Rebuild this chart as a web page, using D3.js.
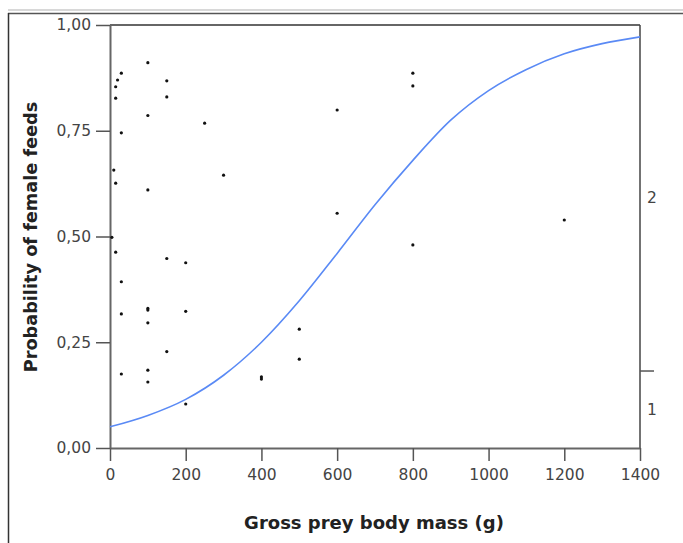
<!DOCTYPE html>
<html>
<head>
<meta charset="utf-8">
<script src="https://cdn.jsdelivr.net/npm/d3@7"></script>
<style>
  body { margin: 0; background: #fff; }
  svg { display: block; font-family: "DejaVu Sans", Verdana, sans-serif; }
</style>
</head>
<body>
<svg id="chart"></svg>
<script>
// observed points: prey mass (g) and probability
const massValues = [100, 30, 20, 15, 15, 150, 150, 100, 250, 30, 10, 15, 300, 100,
  600, 600, 5, 15, 150, 200, 30, 100, 100, 30, 200, 100, 150, 30, 100, 100, 200,
  400, 400, 500, 500, 800, 800, 800, 1200];
const probValues = [0.911, 0.886, 0.870, 0.854, 0.827, 0.868, 0.830, 0.786, 0.768, 0.745, 0.657, 0.626, 0.645, 0.610,
  0.799, 0.555, 0.498, 0.463, 0.448, 0.438, 0.393, 0.330, 0.326, 0.317, 0.323, 0.296, 0.228, 0.175, 0.184, 0.156, 0.104,
  0.163, 0.168, 0.281, 0.210, 0.886, 0.856, 0.480, 0.539];

// fitted curve
const curveMass = [0, 100, 200, 300, 400, 500, 600, 700, 800, 900, 1000, 1100, 1200, 1300, 1400];
const curveProb = [0.05, 0.077, 0.115, 0.172, 0.25, 0.348, 0.46, 0.575, 0.68, 0.775, 0.845, 0.895, 0.932, 0.956, 0.972];

const xTicks = [0, 200, 400, 600, 800, 1000, 1200, 1400];
const yTicks = [0, 0.25, 0.5, 0.75, 1];

// right-hand category bands
const bandLabels = ["1", "2"];
const bandBreaks = [0, 0.182, 1];

const width = 683, height = 543;
const svg = d3.select("#chart").attr("width", width).attr("height", height);

const x = d3.scaleLinear().domain([0, 1400]).range([110, 640]);
const y = d3.scaleLinear().domain([0, 1]).range([448, 25]);

const comma = d3.formatLocale({ decimal: ",", thousands: ".", grouping: [3], currency: ["", ""] }).format(".2f");

// outer frame
svg.append("line").attr("x1", 8).attr("x2", width).attr("y1", 10).attr("y2", 10)
  .attr("stroke", "#d8d8d8").attr("stroke-width", 2);
svg.append("line").attr("x1", 8).attr("x2", width).attr("y1", 13.5).attr("y2", 13.5)
  .attr("stroke", "#555").attr("stroke-width", 1.5);
svg.append("line").attr("x1", 8.5).attr("x2", 8.5).attr("y1", 13).attr("y2", height)
  .attr("stroke", "#333").attr("stroke-width", 1.5);

// top and right box
svg.append("line").attr("x1", x(0)).attr("x2", x(1400)).attr("y1", y(1)).attr("y2", y(1))
  .attr("stroke", "#666").attr("stroke-width", 2);
svg.append("line").attr("x1", x(1400)).attr("x2", x(1400)).attr("y1", y(1)).attr("y2", y(0))
  .attr("stroke", "#444").attr("stroke-width", 1.5);

const styleAxis = g => {
  g.select(".domain").attr("stroke", "#666").attr("stroke-width", 2);
  g.selectAll(".tick line").attr("stroke", "#555").attr("stroke-width", 1.5);
  g.selectAll(".tick text").attr("fill", "#444").style("font-size", "15.5px")
    .style("font-family", "'DejaVu Sans', Verdana, sans-serif");
};

svg.append("g").attr("transform", `translate(0,${y(0)})`)
  .call(d3.axisBottom(x).tickValues(xTicks).tickFormat(d => String(d)).tickSize(13).tickSizeOuter(0).tickPadding(8))
  .call(styleAxis);

svg.append("g").attr("transform", `translate(${x(0)},0)`)
  .call(d3.axisLeft(y).tickValues(yTicks).tickFormat(comma).tickSize(14).tickSizeOuter(0).tickPadding(5))
  .call(styleAxis);

// right band axis
const bands = svg.append("g");
bands.selectAll("line").data(bandBreaks.slice(1, -1)).join("line")
  .attr("x1", x(1400)).attr("x2", x(1400) + 14)
  .attr("y1", d => y(d)).attr("y2", d => y(d))
  .attr("stroke", "#555").attr("stroke-width", 1.5);
bands.selectAll("text").data(bandLabels).join("text")
  .attr("x", x(1400) + 7)
  .attr("y", (d, i) => (y(bandBreaks[i]) + y(bandBreaks[i + 1])) / 2)
  .attr("dy", "0.35em")
  .attr("fill", "#444").style("font-size", "15.5px")
  .text(d => d);

// fitted curve
const line = d3.line().x(d => x(d[0])).y(d => y(d[1])).curve(d3.curveMonotoneX);
svg.append("path").datum(d3.zip(curveMass, curveProb))
  .attr("d", line).attr("fill", "none")
  .attr("stroke", "#5a8af5").attr("stroke-width", 1.6);

// points
svg.append("g").selectAll("circle").data(d3.zip(massValues, probValues)).join("circle")
  .attr("cx", d => x(d[0])).attr("cy", d => y(d[1])).attr("r", 1.6)
  .attr("fill", "#111");

// titles
svg.append("text").attr("x", 374).attr("y", 529).attr("text-anchor", "middle")
  .style("font-size", "18px").style("font-weight", "bold").attr("fill", "#222")
  .text("Gross prey body mass (g)");
svg.append("text").attr("transform", `translate(36.5,237) rotate(-90)`).attr("text-anchor", "middle")
  .style("font-size", "17.7px").style("font-weight", "bold").attr("fill", "#222")
  .text("Probability of female feeds");
</script>
</body>
</html>
